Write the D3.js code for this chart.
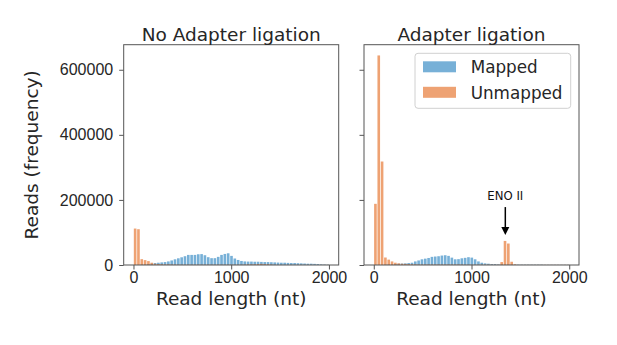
<!DOCTYPE html>
<html>
<head>
<meta charset="utf-8">
<script src="https://cdn.jsdelivr.net/npm/d3@7"></script>
<style>
  body { margin: 0; background: #fff; }
  svg { font-family: "DejaVu Sans", sans-serif; }
  .tick text { fill: #262626; }
</style>
</head>
<body>
<svg id="chart" width="617" height="345"></svg>
<script>
// histogram bins, 34 nt wide, starting at 0
const binWidth = 34;

// No Adapter ligation
const mappedNoAdapter = [
  0, 0, 1500, 2000, 3000, 4000, 6000, 7000, 8000, 9000,
  11000, 14000, 17500, 20600, 23700, 27000, 31000, 31000, 31000, 33000,
  33500, 30000, 24000, 21000, 21000, 25000, 31000, 34000, 36000, 28000,
  20000, 15500, 12400, 11000, 10500, 10500, 10000, 10000, 9500, 9000,
  9000, 8500, 8000, 7500, 7000, 7000, 6500, 6000, 6000, 5500,
  5000, 4500, 4000, 4000, 3500, 3000, 2000, 1500, 1000
];
const unmappedNoAdapter = [
  112000, 110000, 18000, 15000, 12000, 7000, 4000, 3000, 2500, 2000,
  2000, 1500, 1500, 1000, 1000, 1000, 1000, 1000, 1000, 1000,
  1000, 1000, 1000, 1000, 1000, 1000, 1000, 1000, 1000, 1000,
  1000, 1000, 1000, 1500, 2000, 2000, 2500, 3000, 3500, 3000,
  2500, 1500, 1000, 500, 500, 500, 500, 500, 500, 500,
  500, 500, 500, 500, 500, 500, 500, 500, 500
];

// Adapter ligation
const mappedAdapter = [
  0, 0, 0, 1000, 1500, 2000, 3000, 4000, 4500, 5000,
  6000, 7000, 11000, 14000, 17500, 19500, 21600, 25000, 26000, 27000,
  29000, 30000, 28000, 22600, 17500, 18000, 20600, 22000, 24000, 22700,
  17500, 11000, 7000, 5000, 4000, 3000, 3000, 2000, 2000, 1500,
  1500, 1500, 1200, 1000, 1000, 1000, 1000, 1000, 1000, 1000,
  1000, 500, 500, 500, 500, 500, 500, 500, 500
];
const unmappedAdapter = [
  188000, 644000, 318000, 23000, 16500, 11000, 7000, 5000, 4000, 3500,
  3000, 2500, 2000, 1500, 1500, 1500, 1500, 1500, 1500, 1500,
  1500, 1500, 1500, 1500, 1500, 1500, 1500, 1000, 1000, 1000,
  1000, 1000, 1000, 1000, 1000, 1000, 1000, 1000, 9000, 74000,
  66000, 10000, 2000, 500, 500, 500, 500, 500, 500, 500,
  500, 500, 500, 500, 500, 500, 500, 500, 500
];

const panelTitles = ["No Adapter ligation", "Adapter ligation"];
const seriesNames = ["Mapped", "Unmapped"];
const xTicks = [0, 1000, 2000];
const yTicks = [0, 200000, 400000, 600000];

// ENO II annotation (data coords)
const enoLabel = "ENO II";
const enoX = 1346;
const enoTextY = 200000;
const enoArrowFrom = 178000;
const enoArrowTo = 92000;

const colors = ["#3d8fc6", "#e77a37"];
const barOpacity = 0.7;

const plotTop = 44.7, plotBottom = 265;
const panels = [
  { left: 123.7, right: 338.7, mapped: mappedNoAdapter, unmapped: unmappedNoAdapter, labels: true },
  { left: 364, right: 579, mapped: mappedAdapter, unmapped: unmappedAdapter, labels: false }
];

const svg = d3.select("#chart");

const y = d3.scaleLinear()
    .domain([0, 677000])
    .range([plotBottom, plotTop]);

panels.forEach((p, pi) => {
    const x = d3.scaleLinear()
        .domain([-100, 2100])
        .range([p.left, p.right]);

    const g = svg.append("g");

    // bars: mapped first, unmapped drawn over it
    [p.mapped, p.unmapped].forEach((values, si) => {
        g.append("g")
            .selectAll("rect")
            .data(values)
            .join("rect")
            .attr("x", (d, i) => x(i * binWidth) + 0.35)
            .attr("width", (d, i) => x((i + 1) * binWidth) - x(i * binWidth) - 0.7)
            .attr("y", d => y(d))
            .attr("height", d => y(0) - y(d))
            .attr("fill", colors[si])
            .attr("fill-opacity", barOpacity);
    });

    // axes
    const xAxis = g.append("g")
        .attr("transform", `translate(0, ${plotBottom})`)
        .call(d3.axisBottom(x).tickValues(xTicks).tickSize(4.5).tickPadding(2.5).tickFormat(d3.format("d")));
    xAxis.selectAll("text").style("font-size", "16px");

    const yAxis = g.append("g")
        .attr("transform", `translate(${p.left}, 0)`)
        .call(d3.axisLeft(y).tickValues(yTicks).tickSize(4.5).tickPadding(6)
            .tickFormat(p.labels ? d3.format("d") : () => ""));
    yAxis.selectAll("text").style("font-size", "16px");

    [xAxis, yAxis].forEach(a => {
        a.select(".domain").remove();
        a.selectAll(".tick line").attr("stroke", "#555").attr("stroke-width", 1);
    });

    // frame
    g.append("rect")
        .attr("x", p.left)
        .attr("y", plotTop)
        .attr("width", p.right - p.left)
        .attr("height", plotBottom - plotTop)
        .attr("fill", "none")
        .attr("stroke", "#555")
        .attr("stroke-width", 1);

    // title
    g.append("text")
        .attr("x", (p.left + p.right) / 2)
        .attr("y", 40.5)
        .attr("text-anchor", "middle")
        .style("font-size", "18.5px")
        .attr("fill", "#262626")
        .text(panelTitles[pi]);

    // x label
    g.append("text")
        .attr("x", (p.left + p.right) / 2)
        .attr("y", 305)
        .attr("text-anchor", "middle")
        .style("font-size", "18.5px")
        .attr("fill", "#262626")
        .text("Read length (nt)");

    if (pi === 1) {
        // annotation
        const ax = x(enoX);
        g.append("text")
            .attr("x", ax)
            .attr("y", y(enoTextY))
            .attr("text-anchor", "middle")
            .style("font-size", "11.7px")
            .attr("fill", "#111")
            .text(enoLabel);
        g.append("line")
            .attr("x1", ax).attr("x2", ax)
            .attr("y1", y(enoArrowFrom))
            .attr("y2", y(enoArrowTo) - 6)
            .attr("stroke", "#000")
            .attr("stroke-width", 1.5);
        const tipY = y(enoArrowTo);
        g.append("path")
            .attr("d", `M${ax - 4},${tipY - 8}L${ax + 4},${tipY - 8}L${ax},${tipY}Z`)
            .attr("fill", "#000");

        // legend
        const legend = g.append("g").attr("transform", "translate(415, 53.3)");
        legend.append("rect")
            .attr("width", 155.7)
            .attr("height", 55)
            .attr("rx", 3)
            .attr("fill", "#fff")
            .attr("fill-opacity", 0.8)
            .attr("stroke", "#d0d0d0")
            .attr("stroke-width", 1);
        seriesNames.forEach((name, i) => {
            legend.append("rect")
                .attr("x", 8)
                .attr("y", 8 + i * 25.5)
                .attr("width", 33)
                .attr("height", 11)
                .attr("fill", colors[i])
                .attr("fill-opacity", barOpacity);
            legend.append("text")
                .attr("x", 55.7)
                .attr("y", 20 + i * 25.5)
                .style("font-size", "16.8px")
                .attr("fill", "#262626")
                .text(name);
        });
    }
});

// shared y label
svg.append("text")
    .attr("transform", `translate(38, ${(plotTop + plotBottom) / 2}) rotate(-90)`)
    .attr("text-anchor", "middle")
    .style("font-size", "18.5px")
    .attr("fill", "#262626")
    .text("Reads (frequency)");
</script>
</body>
</html>
